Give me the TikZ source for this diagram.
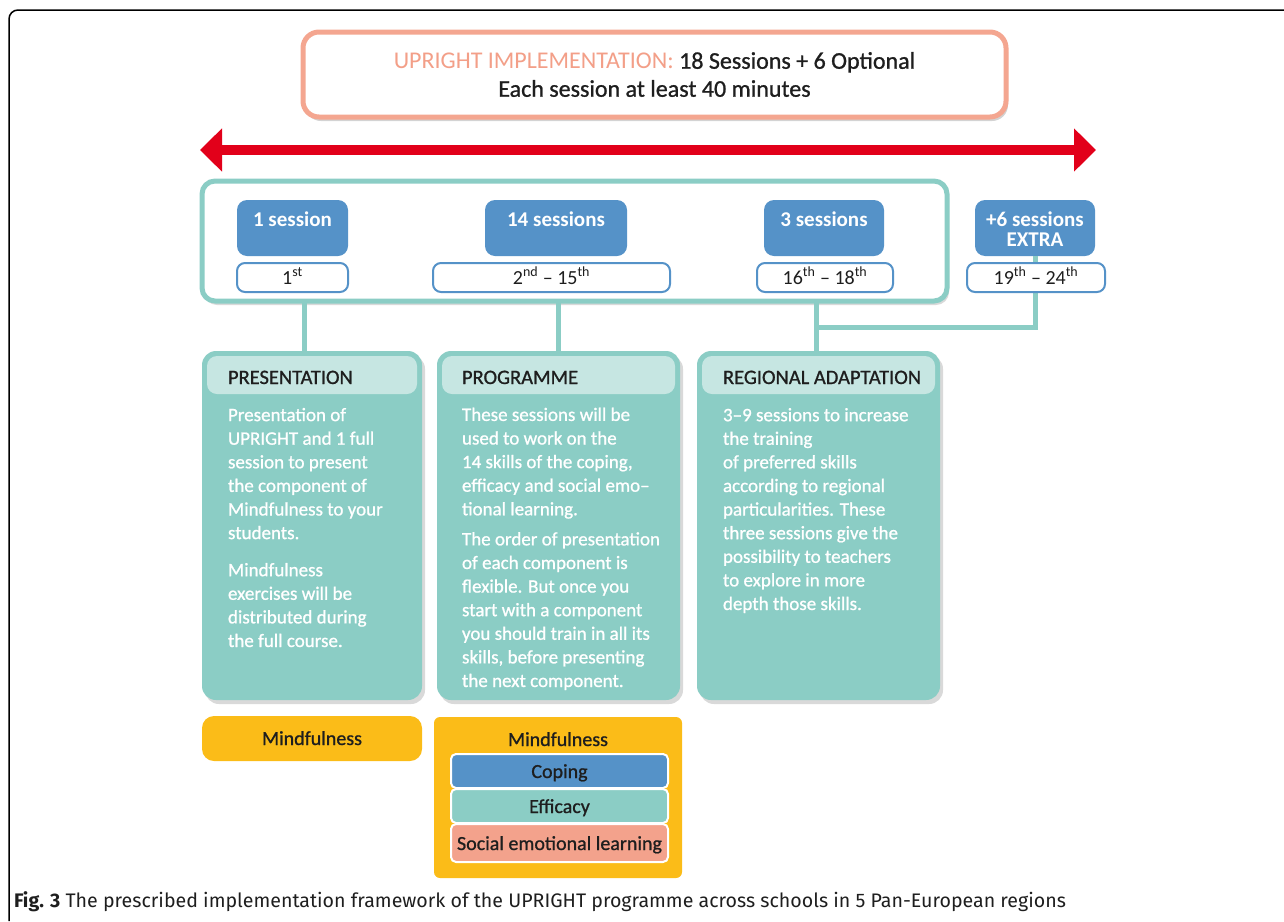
\documentclass[tikz,border=0pt]{standalone}
\usepackage{fontspec}
\setmainfont{Carlito}
\newfontfamily\medfont[FakeBold=0.9,Ligatures=TeX]{Carlito}
\newfontfamily\capfont[Ligatures=TeX]{Fira Sans}
\usetikzlibrary{arrows.meta,shadows}
\definecolor{cTeal}{HTML}{8BCDC5}
\definecolor{cTealL}{HTML}{C6E6E2}
\definecolor{cBlue}{HTML}{5592C8}
\definecolor{cSalmon}{HTML}{F4A690}
\definecolor{cSalmonT}{HTML}{F39F88}
\definecolor{cYellow}{HTML}{FBBC18}
\definecolor{cRed}{HTML}{E2001A}
\definecolor{cSocial}{HTML}{F3A28C}
\definecolor{cInk}{HTML}{1E1E1E}
\begin{document}
\begin{tikzpicture}[x=1pt,y=-1pt,
  every node/.style={inner sep=0pt,outer sep=0pt},
  titlebox/.style={draw=cSalmon,fill=white,line width=5pt,rounded corners=16pt,anchor=north west,
    drop shadow={shadow xshift=2pt,shadow yshift=-4pt,opacity=0.35}},
  bigbox/.style={draw=cTeal,fill=white,line width=5pt,rounded corners=13pt,anchor=north west,
    drop shadow={shadow xshift=2pt,shadow yshift=-4pt,opacity=0.3}},
  blueb/.style={fill=cBlue,rounded corners=10pt,anchor=north west},
  whiteb/.style={fill=white,draw=cBlue,line width=2pt,rounded corners=8pt,anchor=north west},
  card/.style={fill=cTeal,rounded corners=14pt,anchor=north west,
    drop shadow={shadow xshift=3pt,shadow yshift=-4pt,opacity=0.3}},
  band/.style={fill=cTealL,rounded corners=10pt,anchor=north west},
  conn/.style={draw=cTeal,line width=5pt},
  hdr/.style={anchor=base west,font=\medfont\fontsize{20.5}{24}\selectfont,text=cInk},
  body/.style={anchor=base west,align=left,font=\medfont\fontsize{19}{23.6}\selectfont,text=white},
  btxt/.style={anchor=base,font=\bfseries\fontsize{21}{21}\selectfont,text=white},
  wtxt/.style={anchor=base,font=\fontsize{20}{22}\selectfont,text=cInk},
  ybox/.style={fill=cYellow,anchor=north west},
  stackb/.style={draw=white,line width=2pt,rounded corners=5pt,anchor=north west},
  ltxt/.style={anchor=base,font=\medfont\fontsize{20}{22}\selectfont,text=cInk},
]
\useasboundingbox (0,0) rectangle (1284,921);
% frame
\draw[line width=1.5pt,rounded corners=9pt] (9,921) -- (9,10) -- (1284,10);

% title
\node[titlebox,minimum width=703pt,minimum height=85pt,align=center,
  font=\fontsize{24}{28}\selectfont,text=cInk] (title) at (303,32)
  {{\color{cSalmonT}UPRIGHT IMPLEMENTATION:} {\medfont 18 Sessions + 6 Optional}\\{\medfont Each session at least 40 minutes}};

% red double arrow
\coordinate (la) at (200,150);
\coordinate (ra) at (1096,150);
\draw[cRed,line width=10pt,{Triangle[length=22pt,width=42pt]}-{Triangle[length=22pt,width=42pt]}] (la) -- (ra);

% connector x positions
\coordinate (x1) at (304,0);
\coordinate (x2) at (558,0);
\coordinate (x3) at (816,0);
\coordinate (jn) at (816,327);

% big teal box
\node[bigbox,minimum width=745pt,minimum height=120pt] (big) at (202,181) {};

% cards
\node[card,minimum width=220pt,minimum height=349pt] (pres) at (202,351) {};
\node[card,minimum width=243pt,minimum height=349pt] (prog) at (437,351) {};
\node[card,minimum width=243pt,minimum height=349pt] (reg) at (697,351) {};

% connectors
\draw[conn] (big.south -| x1) -- (pres.north -| x1);
\draw[conn] (big.south -| x2) -- (prog.north -| x2);
\draw[conn] (big.south -| x3) -- (reg.north -| x3);

% blue session boxes
\node[blueb,minimum width=111pt,minimum height=56pt] (s1) at (237,200) {};
\node[blueb,minimum width=142pt,minimum height=56pt] (s2) at (485,200) {};
\node[blueb,minimum width=120pt,minimum height=56pt] (s3) at (764,200) {};
\node[blueb,minimum width=120pt,minimum height=56pt] (s4) at (975,200) {};
\draw[conn] (s4.south) |- (jn);

\node[btxt] (t1) at (292.5,226) {1 session};
\node[btxt] (t2) at (556,226) {14 sessions};
\node[btxt] (t3) at (824,226) {3 sessions};
\node[btxt] (t4) at (1035,226) {+6 sessions};
\node[btxt] (t4b) at (1035,246) {EXTRA};

% white range boxes
\node[whiteb,minimum width=111pt,minimum height=29pt] (w1) at (237,263) {};
\node[whiteb,minimum width=237pt,minimum height=29pt] (w2) at (433,263) {};
\node[whiteb,minimum width=136pt,minimum height=29pt] (w3) at (757,263) {};
\node[whiteb,minimum width=138pt,minimum height=29pt] (w4) at (967,263) {};
\node[wtxt] (r1) at (w1.center |- 0,284) {1\textsuperscript{st}};
\node[wtxt] (r2) at (w2.center |- 0,284) {2\textsuperscript{nd} -- 15\textsuperscript{th}};
\node[wtxt] (r3) at (w3.center |- 0,284) {16\textsuperscript{th} -- 18\textsuperscript{th}};
\node[wtxt] (r4) at (w4.center |- 0,284) {19\textsuperscript{th} -- 24\textsuperscript{th}};

% header bands
\node[band,minimum width=210pt,minimum height=38pt] (b1) at (207,356) {};
\node[band,minimum width=233pt,minimum height=38pt] (b2) at (442,356) {};
\node[band,minimum width=233pt,minimum height=38pt] (b3) at (702,356) {};
\node[hdr] (h1) at (228,384) {PRESENTATION};
\node[hdr] (h2) at (462,384) {PROGRAMME};
\node[hdr] (h3) at (723,384) {REGIONAL ADAPTATION};

% body texts (anchored at the baseline of their last line)
\node[body] (p1) at (228,647) {Presentation of\\UPRIGHT and 1 full\\session to present\\the component of\\Mindfulness to your\\students.\\[13.5pt]Mindfulness\\exercises will be\\distributed during\\the full course.};
\node[body] (p2) at (462,687) {These sessions will be\\used to work on the\\14 skills of the coping,\\efficacy and social emo–\\tional learning.\\[6.5pt]The order of presentation\\of each component is\\flexible. But once you\\start with a component\\you should train in all its\\skills, before presenting\\the next component.};
\node[body] (p3) at (723,610) {3–9 sessions to increase\\the training\\of preferred skills\\according to regional\\particularities. These\\three sessions give the\\possibility to teachers\\to explore in more\\depth those skills.};

% bottom component boxes
\node[ybox,rounded corners=12pt,minimum width=220pt,minimum height=45pt] (y1) at (202,716) {};
\node[ltxt] (m1) at (y1.center |- 0,745) {Mindfulness};
\node[ybox,rounded corners=6pt,minimum width=248pt,minimum height=161pt] (y2) at (434,717) {};
\node[ltxt] (m2) at (y2.center |- 0,746) {Mindfulness};
\node[stackb,fill=cBlue,minimum width=217pt,minimum height=34pt] (cop) at (451,754) {};
\node[stackb,fill=cTeal,minimum width=217pt,minimum height=34pt] (eff) at (451,789) {};
\node[stackb,fill=cSocial,minimum width=217pt,minimum height=38pt] (soc) at (451,824) {};
\node[ltxt] (lc) at (cop.center |- 0,778) {Coping};
\node[ltxt] (le) at (eff.center |- 0,813) {Efficacy};
\node[ltxt] (ls) at (soc.center |- 0,850) {Social emotional learning};

% caption
\node[anchor=base west,font=\capfont\fontsize{19.6}{22}\selectfont,text=cInk] (cap) at (14,907)
  {\textbf{Fig. 3} The prescribed implementation framework of the UPRIGHT programme across schools in 5 Pan-European regions};
\end{tikzpicture}
\end{document}
